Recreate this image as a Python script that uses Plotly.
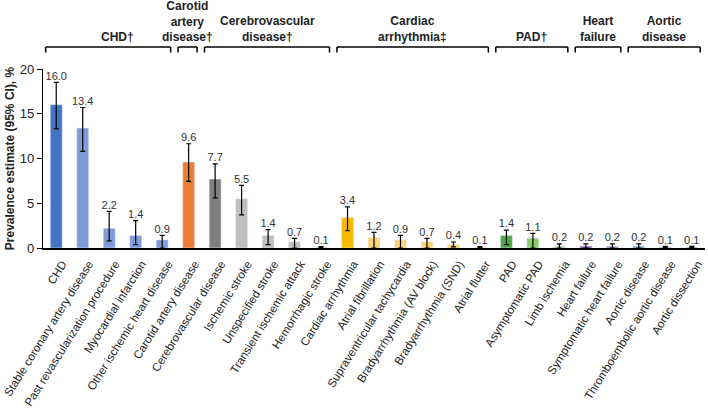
import plotly.graph_objects as go

categories = [
    "CHD", "Stable coronary artery disease", "Past revascularization procedure",
    "Myocardial infarction", "Other ischemic heart disease", "Carotid artery disease",
    "Cerebrovascular disease", "Ischemic stroke", "Unspecified stroke",
    "Transient ischemic attack", "Hemorrhagic stroke", "Cardiac arrhythmia",
    "Atrial fibrillation", "Supraventricular tachycardia", "Bradyarrhythmia (AV block)",
    "Bradyarrhythmia (SND)", "Atrial flutter", "PAD", "Asymptomatic PAD",
    "Limb ischemia", "Heart failure", "Symptomatic heart failure", "Aortic disease",
    "Thromboembolic aortic disease", "Aortic dissection",
]
values = [16.0, 13.4, 2.2, 1.4, 0.9, 9.6, 7.7, 5.5, 1.4, 0.7, 0.1, 3.4, 1.2, 0.9,
          0.7, 0.4, 0.1, 1.4, 1.1, 0.2, 0.2, 0.2, 0.2, 0.1, 0.1]
ci_upper = [18.5, 15.7, 4.1, 3.05, 1.4, 11.65, 9.4, 7.0, 2.05, 1.07, 0.16, 4.6, 1.75,
            1.4, 1.07, 0.67, 0.15, 2.0, 1.63, 0.45, 0.45, 0.45, 0.45, 0.18, 0.18]
ci_lower = [13.3, 10.8, 0.8, 0.37, 0.0, 7.45, 5.6, 3.7, 0.37, 0.0, 0.04, 1.93, 0.0,
            0.0, 0.0, 0.13, 0.04, 0.37, 0.0, 0.0, 0.0, 0.0, 0.0, 0.04, 0.04]
colors = ["#4472C4", "#7F9CD8", "#7F9CD8", "#7F9CD8", "#7F9CD8", "#ED7D31",
          "#7F7F7F", "#BFBFBF", "#BFBFBF", "#BFBFBF", "#BFBFBF", "#F7B900",
          "#FAD47A", "#FAD47A", "#FAD47A", "#FAD47A", "#FAD47A", "#4EA843",
          "#8CCB6E", "#A8D890", "#7030A0", "#A57CC5", "#5B9BD5", "#8FB4E0", "#8FB4E0"]
value_labels = ["%.1f" % v for v in values]

group_titles = ["CHD\u2020", "Carotid<br>artery<br>disease\u2020",
                "Cerebrovascular<br>disease\u2020", "Cardiac<br>arrhythmia\u2021",
                "PAD\u2020", "Heart<br>failure", "Aortic<br>disease"]
group_first = [0, 5, 6, 11, 17, 20, 22]
group_last = [4, 5, 10, 16, 19, 21, 24]

x = list(range(len(categories)))
err_plus = [u - v for u, v in zip(ci_upper, values)]
err_minus = [v - l for v, l in zip(values, ci_lower)]

fig = go.Figure()
fig.add_trace(go.Bar(
    x=x, y=values, marker_color=colors, width=0.45,
    error_y=dict(type="data", symmetric=False, array=err_plus, arrayminus=err_minus,
                 color="black", thickness=1.2, width=2.5),
    hoverinfo="skip", showlegend=False,
))
fig.add_trace(go.Scatter(
    x=x, y=ci_upper, mode="text", text=value_labels, textposition="top center",
    textfont=dict(size=11, color="#333333"), showlegend=False, hoverinfo="skip",
    cliponaxis=False,
))

y_line = 1.123
y_tick = 1.092
shapes = []
annotations = []
for i, (t, a, b) in enumerate(zip(group_titles, group_first, group_last)):
    x0 = a - 0.4
    x1 = b + 0.32
    for path in [(x0, y_line, x1, y_line), (x0, y_line, x0, y_tick), (x1, y_line, x1, y_tick)]:
        shapes.append(dict(type="line", xref="x", yref="paper",
                           x0=path[0], y0=path[1], x1=path[2], y1=path[3],
                           line=dict(color="black", width=1.5)))
    annotations.append(dict(text="<b>%s</b>" % t, x=(x0 + x1) / 2, y=y_line,
                            xref="x", yref="paper", xanchor="center", yanchor="bottom",
                            yshift=1, xshift=9 if i == 0 else 0, showarrow=False,
                            font=dict(size=12, color="#222222")))

fig.update_layout(
    width=708, height=413,
    margin=dict(l=43, r=3, t=69, b=165, autoexpand=False),
    paper_bgcolor="white", plot_bgcolor="white",
    font=dict(family="Liberation Sans, Arial, sans-serif", color="#222222"),
    shapes=shapes, annotations=annotations,
    bargap=0.5,
)
fig.update_xaxes(
    range=[-0.5, len(categories) - 0.5], tickvals=x, ticktext=categories,
    tickangle=-58, tickfont=dict(size=11.6, color="#222222"), automargin=False,
    ticklabeloverflow="allow", ticklabelshift=6, ticklabelstandoff=3,
    showline=True, linecolor="black", linewidth=1.5, ticks="", showgrid=False,
    zeroline=False,
)
fig.update_yaxes(
    range=[0, 20], dtick=5, tickfont=dict(size=13, color="#222222"), automargin=False,
    showline=True, linecolor="black", linewidth=1.2, ticks="outside", ticklen=5,
    tickcolor="black", showgrid=False, zeroline=False,
    title=dict(text="<b>Prevalence estimate (95% CI), %</b>", font=dict(size=12),
               standoff=2),
)

fig.write_html("out.html", config={"displayModeBar": False},
               post_script="document.body.style.margin='0';document.body.style.padding='0';")
